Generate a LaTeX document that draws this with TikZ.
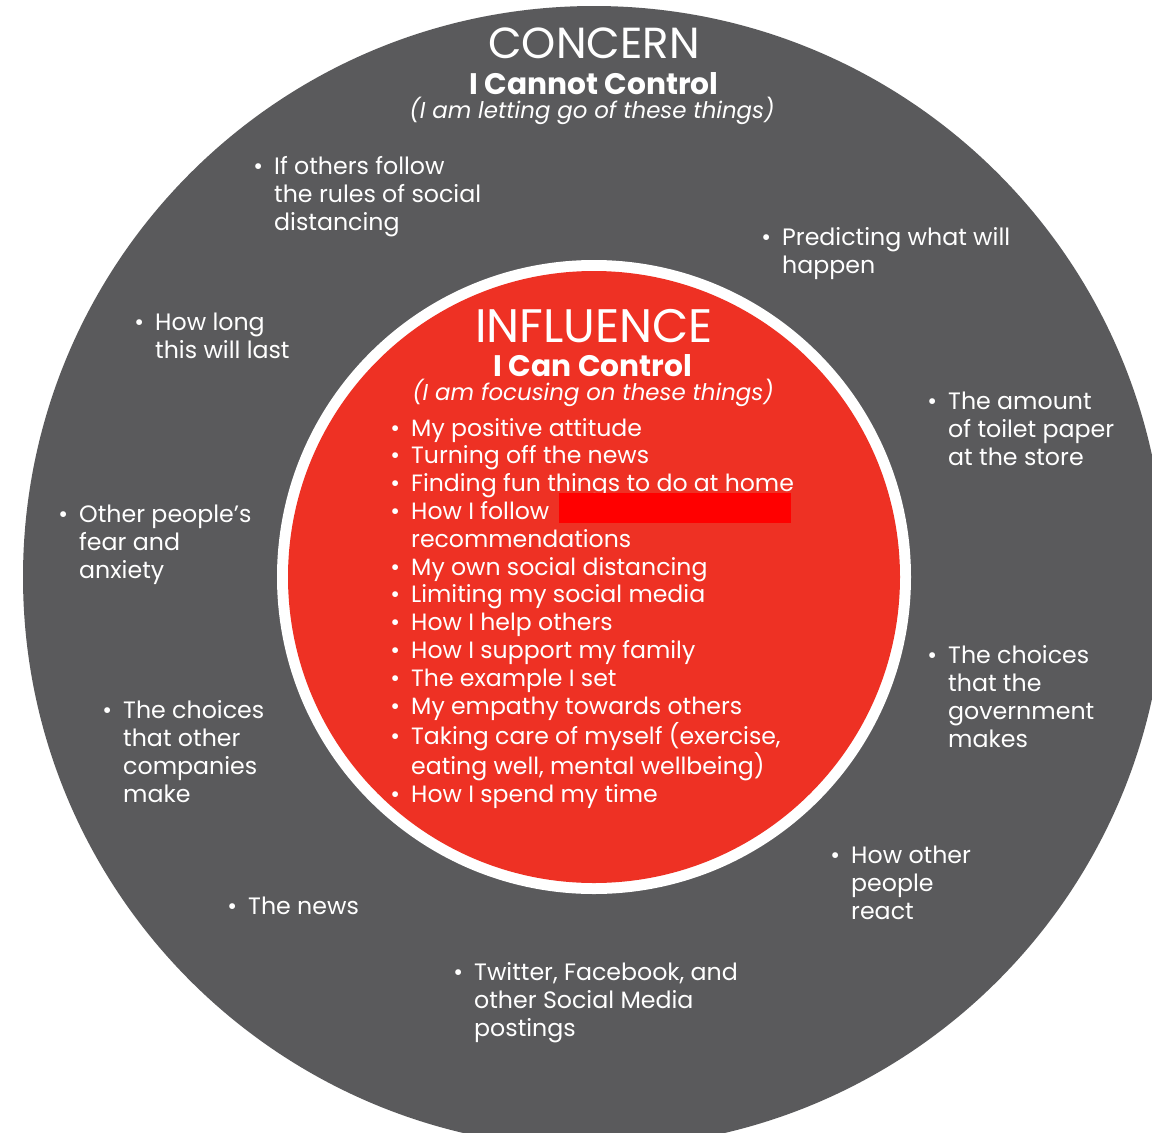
\documentclass[tikz,border=0pt]{standalone}
\usepackage{fontspec}
\setmainfont{Poppins}
\definecolor{concern}{HTML}{5A5A5C}
\definecolor{influence}{HTML}{EE3124}
\definecolor{mask}{HTML}{FF0000}
\newcommand\bl{\makebox[32pt][c]{•}}
\newcommand\blist[1]{\begin{tabular}[t]{@{}l@{}l@{}}#1\end{tabular}}
\begin{document}
\begin{tikzpicture}[x=1pt,y=-1pt,
  txt/.style={text=white,inner sep=0pt,anchor=base west},
  ring/.style={txt,font=\fontsize{23.7}{28}\selectfont},
  core/.style={txt,font=\fontsize{23.6}{27.8}\selectfont},
  big/.style={text=white,inner sep=0pt,anchor=base,font=\fontsize{#1}{#1}\selectfont},
  sub/.style={text=white,inner sep=0pt,anchor=base,font=\bfseries\fontsize{29.7}{29.7}\selectfont},
  note/.style={text=white,inner sep=0pt,anchor=base,font=\itshape\fontsize{22.9}{22.9}\selectfont}]
\useasboundingbox (0,0) rectangle (1152,1133);
% outer disc, cut off by the page edge
\begin{scope}
  \clip (0,0) rectangle (1152,1133);
  \fill[concern] (594,577) circle[radius=571pt];
\end{scope}
% inner disc with white rim
\fill[white] (594,577) circle[radius=317pt];
\fill[influence] (594,577) circle[radius=306pt];

% outer heading
\node[big=43.5] (concern) at (594,58) {CONCERN};
\node[sub] (cannot) at (594,94) {I Cannot Control};
\node[note] (letgo) at (592,118) {(I am letting go of these things)};

% inner heading
\node[big=47] (influ) at (594,342) {INFLUENCE};
\node[sub] (can) at (593,376) {I Can Control};
\node[note] (focus) at (593,400) {(I am focusing on these things)};

% things that can be controlled
\node[core] (inlist) at (379,436) {\blist{%
\bl&My positive attitude\\
\bl&Turning off the news\\
\bl&Finding fun things to do at home\\
\bl&How I follow\\
&recommendations\\
\bl&My own social distancing\\
\bl&Limiting my social media\\
\bl&How I help others\\
\bl&How I support my family\\
\bl&The example I set\\
\bl&My empathy towards others\\
\bl&Taking care of myself (exercise,\\
&eating well, mental wellbeing)\\
\bl&How I spend my time}};
\fill[mask] (559,493) rectangle (791,523);

% things that cannot be controlled
\node[ring] (c1) at (242,174) {\blist{\bl&If others follow\\&the rules of social\\&distancing}};
\node[ring] (c2) at (750,245) {\blist{\bl&Predicting what will\\&happen}};
\node[ring] (c3) at (123,330) {\blist{\bl&How long\\&this will last}};
\node[ring] (c4) at (916,409) {\blist{\bl&The amount\\&of toilet paper\\&at the store}};
\node[ring] (c5) at (47,522) {\blist{\bl&Other people’s\\&fear and\\&anxiety}};
\node[ring] (c6) at (916,663) {\blist{\bl&The choices\\&that the\\&government\\&makes}};
\node[ring] (c7) at (91,718) {\blist{\bl&The choices\\&that other\\&companies\\&make}};
\node[ring] (c8) at (819,863) {\blist{\bl&How other\\&people\\&react}};
\node[ring] (c9) at (216,914) {\blist{\bl&The news}};
\node[ring] (c10) at (442,980) {\blist{\bl&Twitter, Facebook, and\\&other Social Media\\&postings}};
\end{tikzpicture}
\end{document}
